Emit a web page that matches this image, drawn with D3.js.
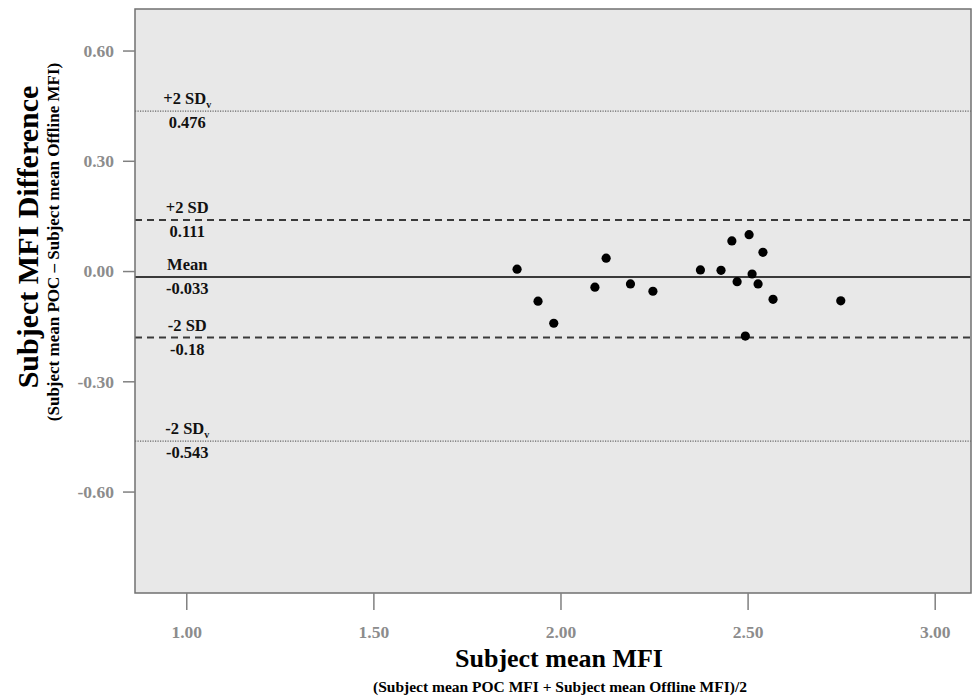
<!DOCTYPE html>
<html>
<head>
<meta charset="utf-8">
<script src="https://cdn.jsdelivr.net/npm/d3@7"></script>
<style>
  html, body { margin: 0; padding: 0; background: #fff; }
  svg { display: block; }
  text { font-family: "Liberation Serif", "Times New Roman", serif; font-weight: bold; }
</style>
</head>
<body>
<svg id="chart" width="974" height="697"></svg>
<script>
// ---- data ----
const meanMFI = [1.884, 1.940, 1.982, 2.092, 2.122, 2.187, 2.247, 2.374, 2.429, 2.458, 2.472, 2.504, 2.512, 2.528, 2.541, 2.568, 2.494, 2.749];
const diffMFI = [0.005, -0.082, -0.142, -0.044, 0.035, -0.035, -0.055, 0.003, 0.002, 0.082, -0.029, 0.099, -0.008, -0.035, 0.051, -0.077, -0.177, -0.081];

const xTicks = [1.00, 1.50, 2.00, 2.50, 3.00];
const yTicks = [-0.60, -0.30, 0.00, 0.30, 0.60];

const limitNames  = ["+2 SD", "+2 SD", "Mean", "-2 SD", "-2 SD"];
const limitSubs   = ["v", "", "", "", "v"];
const limitValues = [0.435, 0.139, -0.016, -0.181, -0.463];   // where the lines are drawn
const limitLabels = ["0.476", "0.111", "-0.033", "-0.18", "-0.543"];
const limitStyles = ["dotted", "dashed", "solid", "dashed", "dotted"];

// ---- layout ----
const svg = d3.select("#chart");
const plot = { left: 135, top: 9, right: 971, bottom: 593 };

const x = d3.scaleLinear().domain([0.863, 3.097]).range([plot.left, plot.right]);
const y = d3.scaleLinear().domain([-0.876, 0.713]).range([plot.bottom, plot.top]);

// background
svg.append("rect")
  .attr("x", plot.left).attr("y", plot.top)
  .attr("width", plot.right - plot.left).attr("height", plot.bottom - plot.top)
  .attr("fill", "#e8e8e8");

// limit lines
const styleMap = {
  solid:  { stroke: "#3a3a3a", width: 2,   dash: null },
  dashed: { stroke: "#3a3a3a", width: 2,   dash: "7,5" },
  dotted: { stroke: "#666",    width: 1.2, dash: "1.2,1.3" }
};
limitValues.forEach((v, i) => {
  const s = styleMap[limitStyles[i]];
  svg.append("line")
    .attr("x1", plot.left).attr("x2", plot.right)
    .attr("y1", y(v)).attr("y2", y(v))
    .attr("stroke", s.stroke).attr("stroke-width", s.width)
    .attr("stroke-dasharray", s.dash);
});

// limit labels
const labelX = x(1.0) + 1;
limitValues.forEach((v, i) => {
  const t = svg.append("text")
    .attr("x", labelX).attr("y", y(v) - 7)
    .attr("text-anchor", "middle")
    .attr("font-size", 16.5).attr("fill", "#111")
    .text(limitNames[i]);
  if (limitSubs[i]) {
    t.append("tspan").attr("font-size", 10).attr("dy", 4).text(limitSubs[i]);
  }
  svg.append("text")
    .attr("x", labelX).attr("y", y(v) + 17)
    .attr("text-anchor", "middle")
    .attr("font-size", 16.5).attr("fill", "#111")
    .text(limitLabels[i]);
});

// points
svg.append("g").selectAll("circle")
  .data(meanMFI.map((m, i) => [m, diffMFI[i]]))
  .join("circle")
  .attr("cx", d => x(d[0])).attr("cy", d => y(d[1]))
  .attr("r", 4.6).attr("fill", "#000");

// frame
svg.append("rect")
  .attr("x", plot.left).attr("y", plot.top)
  .attr("width", plot.right - plot.left).attr("height", plot.bottom - plot.top)
  .attr("fill", "none").attr("stroke", "#707070").attr("stroke-width", 1.5);

// axes
const fmt = d => d.toFixed(2);
const yAxis = svg.append("g")
  .attr("transform", `translate(${plot.left},0)`)
  .call(d3.axisLeft(y).tickValues(yTicks).tickFormat(fmt).tickSize(12).tickPadding(9));
const xAxis = svg.append("g")
  .attr("transform", `translate(0,${plot.bottom})`)
  .call(d3.axisBottom(x).tickValues(xTicks).tickFormat(fmt).tickSize(17).tickPadding(16));
[yAxis, xAxis].forEach(a => {
  a.select(".domain").remove();
  a.selectAll(".tick line").attr("stroke", "#808080").attr("stroke-width", 1.5);
  a.selectAll(".tick text")
    .attr("fill", "#8c8c8c").attr("font-size", 17.5)
    .attr("font-family", "Liberation Serif, Times New Roman, serif")
    .attr("font-weight", "bold");
});
yAxis.selectAll(".tick text").attr("dy", "0.34em");

// titles
svg.append("text")
  .attr("x", 559).attr("y", 667)
  .attr("text-anchor", "middle").attr("font-size", 26).attr("fill", "#000")
  .text("Subject mean MFI");
svg.append("text")
  .attr("x", 560).attr("y", 692)
  .attr("text-anchor", "middle").attr("font-size", 15.5).attr("fill", "#000")
  .text("(Subject mean POC MFI + Subject mean Offline MFI)/2");

svg.append("text")
  .attr("transform", "translate(38,237) rotate(-90)")
  .attr("text-anchor", "middle").attr("font-size", 30).attr("fill", "#000")
  .text("Subject MFI Difference");
svg.append("text")
  .attr("transform", "translate(59,242) rotate(-90)")
  .attr("text-anchor", "middle").attr("font-size", 17).attr("fill", "#000")
  .text("(Subject mean POC \u2013 Subject mean Offline MFI)");
</script>
</body>
</html>
